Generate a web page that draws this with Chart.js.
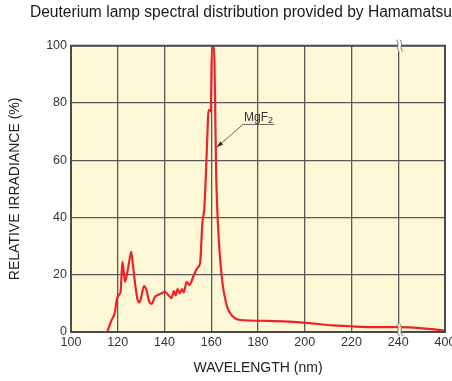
<!DOCTYPE html>
<html>
<head>
<meta charset="utf-8">
<script src="https://cdn.jsdelivr.net/npm/chart.js@4/dist/chart.umd.min.js"></script>
<style>
html,body{margin:0;padding:0;background:#fff;}
#wrap{width:452px;height:381px;}
</style>
</head>
<body>
<div id="wrap"><canvas id="c" width="452" height="381"></canvas></div>
<script>
// Data (wavelength in nm, relative irradiance in %)
const wavelengths = [115.5,117.4,118.8,119.5,120.5,121.2,122,123.1,124.5,125.8,126.4,127.4,128.3,129.2,130,131.2,132.3,133.5,134.5,135.9,137.5,138.8,140.2,141.5,143,144,144.8,145.6,146.5,147.5,148.2,149.5,150.6,152.3,154,155.2,156.2,157,157.6,158.4,158.8,159.5,159.8,160.3,161.1,162.2,163,164.5,166.6,169.4,172.3,183.7,199.4,212.2,219.4,229.4,240.4,334,400];
const irradiance  = [0,4.2,7,11,13,14,24.5,17.5,22.7,28,24,17,12,10.3,12,16,14.6,10.5,9.8,12.3,13,13.5,14,13,11.8,14.3,12.8,15,13.6,15,13.8,17.5,16.4,19.3,22.3,24,38,43,53,70,77.5,77.5,77,100,100,52,35.5,19.3,9.4,5.3,4.2,3.9,3.3,2.3,2,1.7,1.7,1.2,0.5];
const xTickValues = [100,120,140,160,180,200,220,240,400];
const yTickValues = [0,20,40,60,80,100];

// broken axis: 100-240 linear, 240-400 compressed into one 20-nm slot
const BREAK = 240, COMPRESS = 8;
const toAxis = w => w <= BREAK ? w : BREAK + (w - BREAK) / COMPRESS;
const points = wavelengths.map((w, i) => ({x: toAxis(w), y: irradiance[i]}));
const tickPositions = xTickValues.map(toAxis);

const FONT = 'Liberation Sans, Arial, sans-serif';

const bgPlugin = {
  id: 'bg',
  beforeDraw(chart) {
    const {ctx, chartArea: a} = chart;
    ctx.save();
    ctx.fillStyle = '#FEF8D6';
    ctx.fillRect(a.left, a.top, a.right - a.left, a.bottom - a.top);
    ctx.restore();
  },
  afterDatasetsDraw(chart) {
    const {ctx, chartArea: a, scales: {x, y}} = chart;
    ctx.save();
    // border
    ctx.strokeStyle = '#4a4a4a';
    ctx.lineWidth = 2;
    ctx.strokeRect(a.left, a.top, a.right - a.left, a.bottom - a.top);
    // axis break marks
    const bx = x.getPixelForValue(toAxis(244.5));
    const drawBreak = (cy, fill) => {
      const h = 6;
      ctx.fillStyle = fill;
      ctx.beginPath();
      ctx.rect(bx - 1.5, cy - h, 3, 2 * h);
      ctx.fill();
      ctx.strokeStyle = '#777';
      ctx.lineWidth = 1;
      [-1.7, 1.7].forEach(dx => {
        ctx.beginPath();
        ctx.moveTo(bx + dx - 1.5, cy - h);
        ctx.bezierCurveTo(bx + dx + 2.5, cy - h / 3, bx + dx - 2.5, cy + h / 3, bx + dx + 1.5, cy + h);
        ctx.stroke();
      });
    };
    drawBreak(a.top, '#ffffff');
    drawBreak(a.bottom - 2, '#FEF8D6');
    // MgF2 annotation
    const tx = x.getPixelForValue(173.6), ty = y.getPixelForValue(72.5);
    const ex = x.getPixelForValue(187), ax = x.getPixelForValue(162.3), ay = y.getPixelForValue(64.5);
    ctx.fillStyle = '#333';
    ctx.font = '12px ' + FONT;
    ctx.textBaseline = 'alphabetic';
    ctx.fillText('MgF', tx + 1, ty - 3);
    const w = ctx.measureText('MgF').width;
    ctx.font = '9px ' + FONT;
    ctx.fillText('2', tx + 1 + w, ty - 1);
    ctx.strokeStyle = '#444';
    ctx.lineWidth = 0.8;
    ctx.beginPath();
    ctx.moveTo(ex, ty); ctx.lineTo(tx, ty); ctx.lineTo(ax, ay);
    ctx.stroke();
    // arrow head
    const ang = Math.atan2(ay - ty, ax - tx);
    ctx.fillStyle = '#222';
    ctx.beginPath();
    ctx.moveTo(ax, ay);
    ctx.lineTo(ax - 7 * Math.cos(ang - 0.3), ay - 7 * Math.sin(ang - 0.3));
    ctx.lineTo(ax - 7 * Math.cos(ang + 0.3), ay - 7 * Math.sin(ang + 0.3));
    ctx.closePath();
    ctx.fill();
    ctx.restore();
  }
};

new Chart(document.getElementById('c'), {
  type: 'line',
  data: {
    datasets: [{
      data: points,
      borderColor: '#EE2229',
      borderWidth: 2.2,
      pointRadius: 0,
      cubicInterpolationMode: 'monotone',
      fill: false
    }]
  },
  options: {
    responsive: false,
    animation: false,
    events: [],
    layout: {padding: {left: 0, right: 0, top: 0, bottom: 0}},
    plugins: {
      legend: {display: false},
      tooltip: {enabled: false},
      title: {
        display: true,
        text: 'Deuterium lamp spectral distribution provided by Hamamatsu',
        align: 'end',
        color: '#1a1a1a',
        font: {family: FONT, size: 15.6, weight: 'normal'},
        padding: {top: 3, bottom: 24}
      }
    },
    scales: {
      x: {
        type: 'linear',
        min: 100,
        max: toAxis(400),
        afterBuildTicks: s => { s.ticks = tickPositions.map(v => ({value: v})); },
        afterFit: s => { s.height = 49; s.paddingLeft = 0; s.paddingRight = 0; },
        ticks: {
          callback: (v) => { const i = tickPositions.indexOf(v); return i >= 0 ? String(xTickValues[i]) : ''; },
          color: '#333',
          font: {family: FONT, size: 12.5},
          padding: 3,
          maxRotation: 0,
          autoSkip: false
        },
        grid: {color: '#5a5a5a', lineWidth: 1.3, drawTicks: false},
        border: {display: false},
        title: {
          display: true,
          text: 'WAVELENGTH (nm)',
          color: '#222',
          font: {family: FONT, size: 14},
          padding: {top: 0, bottom: 4}
        }
      },
      y: {
        min: 0,
        max: 100,
        afterBuildTicks: s => { s.ticks = yTickValues.map(v => ({value: v})); },
        afterFit: s => { s.width = 71; s.paddingTop = 0; s.paddingBottom = 0; },
        ticks: {
          color: '#333',
          font: {family: FONT, size: 12.5},
          padding: 4
        },
        grid: {color: '#5a5a5a', lineWidth: 1.3, drawTicks: false},
        border: {display: false},
        title: {
          display: true,
          text: 'RELATIVE IRRADIANCE (%)',
          color: '#222',
          font: {family: FONT, size: 14},
          padding: {top: 7, bottom: 0}
        }
      },
      yRightSpacer: {
        position: 'right',
        min: 0,
        max: 100,
        display: true,
        afterFit: s => { s.width = 7; s.paddingTop = 0; s.paddingBottom = 0; },
        ticks: {display: false},
        grid: {display: false},
        border: {display: false}
      }
    }
  },
  plugins: [bgPlugin]
});
</script>
</body>
</html>
